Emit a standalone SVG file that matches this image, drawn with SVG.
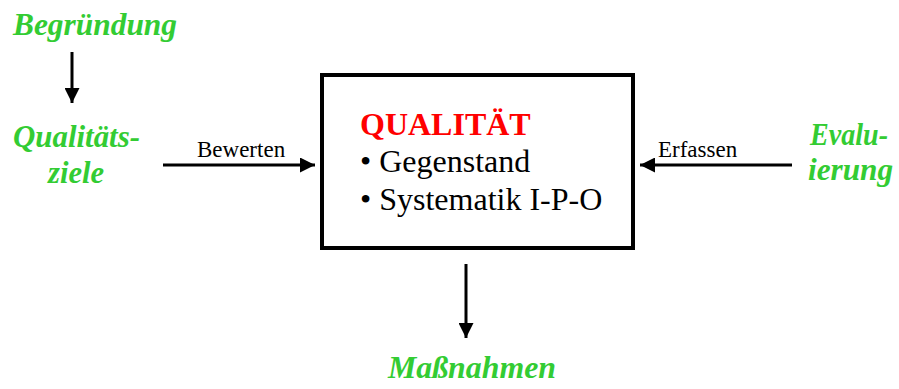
<svg xmlns="http://www.w3.org/2000/svg" width="899" height="389" viewBox="0 0 899 389">
<style>
.g{font-family:"Liberation Serif","Times New Roman",serif;font-weight:bold;font-style:italic;fill:#33cc33;font-size:31px}
.lbl{font-family:"Liberation Serif","Times New Roman",serif;fill:#000;font-size:23px}
.body{font-family:"Liberation Serif","Times New Roman",serif;fill:#000;font-size:32px}
.title{font-family:"Liberation Serif","Times New Roman",serif;fill:#ff0000;font-weight:bold;font-size:32px}
.c{stroke:#000;stroke-width:3;fill:none}
</style>
<defs>
<marker id="ah" viewBox="0 0 10 10" refX="10" refY="5" markerWidth="5" markerHeight="5" markerUnits="strokeWidth" orient="auto">
<path d="M0,0 L10,5 L0,10 z" fill="#000"/>
</marker>
</defs>
<rect width="899" height="389" fill="#fff"/>
<g id="begruendung"><text class="g" x="13" y="35" textLength="164" lengthAdjust="spacingAndGlyphs">Begründung</text></g>
<g id="qualitaetsziele"><text class="g" x="13" y="147" textLength="127" lengthAdjust="spacingAndGlyphs">Qualitäts-</text><text class="g" x="48" y="183" textLength="56" lengthAdjust="spacingAndGlyphs">ziele</text></g>
<g id="qualitaet">
<rect x="322" y="75" width="311" height="173" fill="#fff" stroke="#000" stroke-width="4"/>
<text class="title" x="360" y="135">QUALITÄT</text>
<text class="body" x="360" y="172">• Gegenstand</text>
<text class="body" x="360" y="210">• Systematik I-P-O</text>
</g>
<g id="evaluierung"><text class="g" x="810" y="145" textLength="78" lengthAdjust="spacingAndGlyphs">Evalu-</text><text class="g" x="808" y="180" textLength="85" lengthAdjust="spacingAndGlyphs">ierung</text></g>
<g id="massnahmen"><text class="g" x="388" y="378" textLength="168" lengthAdjust="spacingAndGlyphs">Maßnahmen</text></g>
<g id="connectors">
<line class="c" x1="72" y1="52" x2="72" y2="103" marker-end="url(#ah)"/>
<line class="c" x1="163" y1="165" x2="315" y2="165" marker-end="url(#ah)"/>
<text class="lbl" x="197" y="157">Bewerten</text>
<line class="c" x1="792" y1="165" x2="640" y2="165" marker-end="url(#ah)"/>
<text class="lbl" x="658" y="157">Erfassen</text>
<line class="c" x1="466" y1="264" x2="466" y2="338" marker-end="url(#ah)"/>
</g>
</svg>
